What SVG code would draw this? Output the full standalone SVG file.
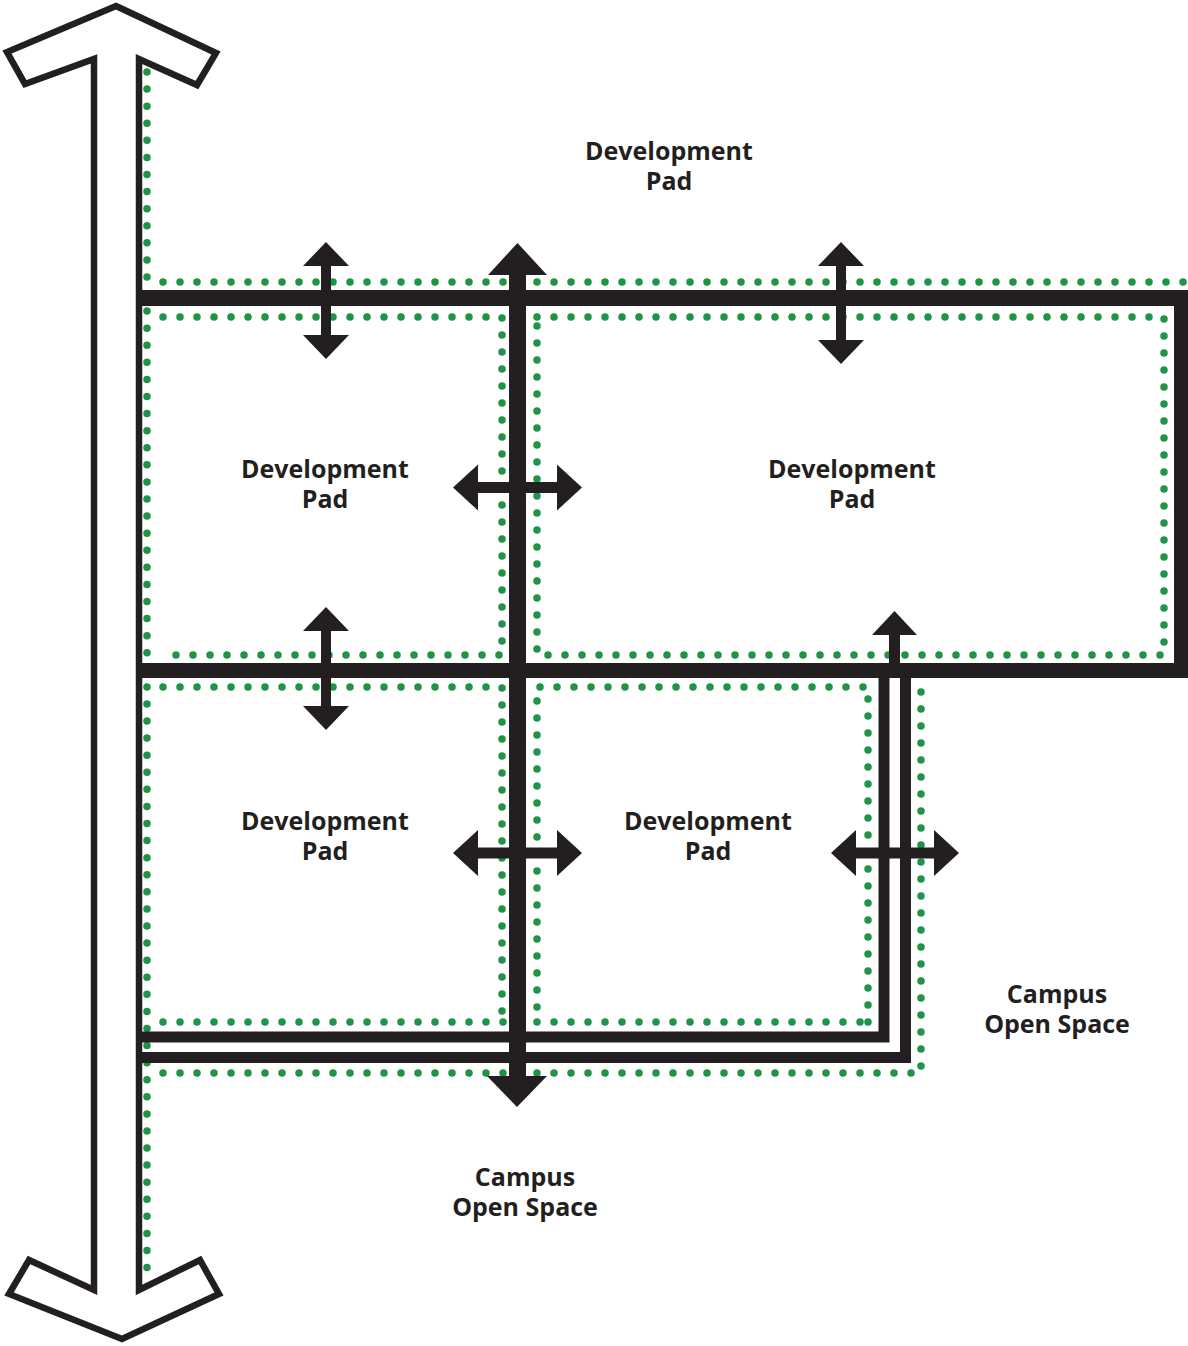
<svg xmlns="http://www.w3.org/2000/svg" width="1188" height="1346" viewBox="0 0 1188 1346">
<style>
.bg{fill:#ffffff}
.outline{fill:#ffffff;stroke:#231f20;stroke-width:6.5;stroke-linejoin:miter}
.dots{fill:none;stroke:#1f9346;stroke-width:7.5;stroke-linecap:round;stroke-dasharray:0 17}
.road{fill:#231f20}
.lroad{fill:none;stroke:#231f20;stroke-width:11;stroke-linejoin:miter}
.arr{fill:#231f20}
.lbl{font-family:"Open Sans","DejaVu Sans",sans-serif;font-weight:700;font-size:25px;fill:#231f20;text-anchor:middle}
</style>
<rect class="bg" x="0" y="0" width="1188" height="1346"/>

<g id="campus-spine">
<polygon class="outline" points="116,6 216,53 197,85 139,59 139,1290 200,1260 219,1294 122,1339 9,1294 29,1260 94,1290 94,59 25,84 7,52"/>
</g>

<g id="open-space-edges">
<path class="dots" d="M147 72 V1269" style="stroke-dasharray:0 17.08"/>
<path class="dots" d="M163 282 H1184"/>
<path class="dots" d="M163 1073 H921 V691"/>
<path class="dots" d="M163 1022 H868"/>
</g>

<g id="pad-top-left">
<path class="dots" d="M163 317 H502 V655 H163"/>
<text class="lbl" x="325" y="478"><tspan x="325" y="478">Development</tspan><tspan x="325" y="508">Pad</tspan></text>
</g>

<g id="pad-top-right">
<path class="dots" d="M537 317 H1164 V655 H537 Z"/>
<text class="lbl" x="852" y="478"><tspan x="852" y="478">Development</tspan><tspan x="852" y="508">Pad</tspan></text>
</g>

<g id="pad-bottom-left">
<path class="dots" d="M163 687 H502 V1022"/>
<text class="lbl" x="325" y="830"><tspan x="325" y="830">Development</tspan><tspan x="325" y="860">Pad</tspan></text>
</g>

<g id="pad-bottom-right">
<path class="dots" d="M868 1022 V687 H537 V1022"/>
<text class="lbl" x="708" y="830"><tspan x="708" y="830">Development</tspan><tspan x="708" y="860">Pad</tspan></text>
</g>

<g id="pad-north">
<text class="lbl" x="669" y="160"><tspan x="669" y="160">Development</tspan><tspan x="669" y="190">Pad</tspan></text>
</g>

<g id="open-space-east">
<text class="lbl" x="1057" y="1003"><tspan x="1057" y="1003">Campus</tspan><tspan x="1057" y="1033">Open Space</tspan></text>
</g>

<g id="open-space-south">
<text class="lbl" x="525" y="1186"><tspan x="525" y="1186">Campus</tspan><tspan x="525" y="1216">Open Space</tspan></text>
</g>

<g id="connectors">
<rect class="road" x="139" y="290" width="1049" height="16"/>
<rect class="road" x="1174" y="290" width="14" height="388"/>
<rect class="road" x="139" y="663" width="1049" height="15"/>
<path class="lroad" d="M139 1037 H884 V678"/>
<path class="lroad" d="M139 1057.5 H905.5 V678"/>
<rect class="road" x="509" y="272" width="17" height="806"/>
<polygon class="arr" points="517.5,243 547,275 488,275"/>
<polygon class="arr" points="487,1076 547,1076 517,1107"/>
<rect class="road" x="889" y="633" width="11" height="32"/>
<polygon class="arr" points="894.5,611 917,635 872,635"/>

<polygon class="arr" points="326,242 349,266 331,266 331,335 349,335 326,359 303,335 321,335 321,266 303,266"/>
<polygon class="arr" points="841,242 864,266 846,266 846,340 864,340 841,364 818,340 836,340 836,266 818,266"/>
<polygon class="arr" points="326,607 349,631 331,631 331,706 349,706 326,730 303,706 321,706 321,631 303,631"/>

<polygon class="arr" points="453,487.5 478,464.5 478,482 557,482 557,464.5 582,487.5 557,510.5 557,493 478,493 478,510.5"/>
<polygon class="arr" points="453,853 478,830 478,847.5 557,847.5 557,830 582,853 557,876 557,858.5 478,858.5 478,876"/>
<polygon class="arr" points="831,853 856,830 856,847.5 934,847.5 934,830 959,853 934,876 934,858.5 856,858.5 856,876"/>
</g>
</svg>
